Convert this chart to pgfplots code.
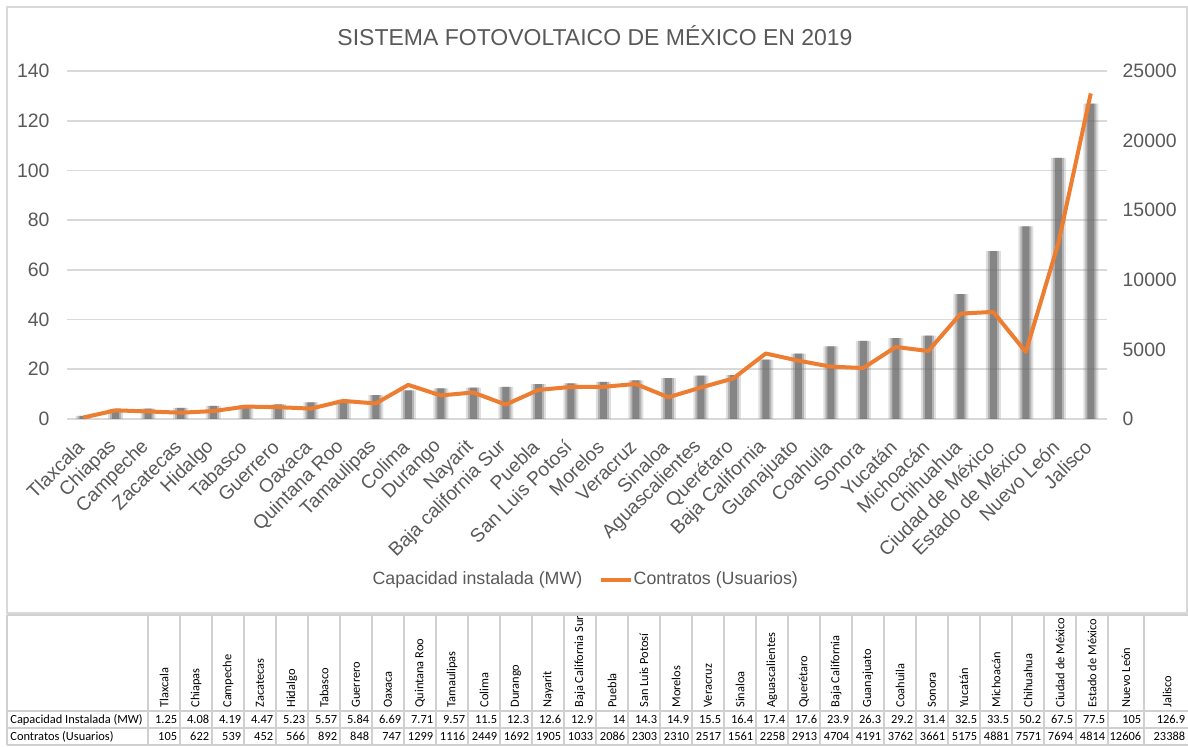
\documentclass[border=0pt]{standalone}
\usepackage{pgfplots}
\pgfplotsset{compat=1.18}
\usepackage{pgfplotstable}
\usepackage{fontspec}
\setmainfont{Liberation Sans}
\newfontfamily\tablefont{Carlito}
\definecolor{txt}{HTML}{595959}
\definecolor{gridc}{HTML}{D9D9D9}
\definecolor{orng}{HTML}{ED7D31}
\definecolor{tline}{HTML}{D0D0D0}

\pgfplotstableread[col sep=comma]{
idx,name,tname,cap,con,xc,xr
0,Tlaxcala,Tlaxcala,1.25,105,164,180
1,Chiapas,Chiapas,4.08,622,196,212
2,Campeche,Campeche,4.19,539,228,244
3,Zacatecas,Zacatecas,4.47,452,260,276
4,Hidalgo,Hidalgo,5.23,566,292,308
5,Tabasco,Tabasco,5.57,892,324,340
6,Guerrero,Guerrero,5.84,848,356,372
7,Oaxaca,Oaxaca,6.69,747,388,404
8,Quintana Roo,Quintana Roo,7.71,1299,420,436
9,Tamaulipas,Tamaulipas,9.57,1116,452,468
10,Colima,Colima,11.5,2449,484,500
11,Durango,Durango,12.3,1692,516,532
12,Nayarit,Nayarit,12.6,1905,548,564
13,Baja california Sur,Baja California Sur,12.9,1033,580,596
14,Puebla,Puebla,14,2086,612,628
15,San Luis Potosí,San Luis Potosí,14.3,2303,644,660
16,Morelos,Morelos,14.9,2310,676,692
17,Veracruz,Veracruz,15.5,2517,708,724
18,Sinaloa,Sinaloa,16.4,1561,740,756
19,Aguascalientes,Aguascalientes,17.4,2258,772,788
20,Querétaro,Querétaro,17.6,2913,804,820
21,Baja California,Baja California,23.9,4704,836,852
22,Guanajuato,Guanajuato,26.3,4191,868,884
23,Coahuila,Coahuila,29.2,3762,900,916
24,Sonora,Sonora,31.4,3661,932,948
25,Yucatán,Yucatán,32.5,5175,964,980
26,Michoacán,Michoacán,33.5,4881,996,1012
27,Chihuahua,Chihuahua,50.2,7571,1028,1044
28,Ciudad de México,Ciudad de México,67.5,7694,1060,1076
29,Estado de México,Estado de México,77.5,4814,1092,1108
30,Nuevo León,Nuevo León,105,12606,1126,1144
31,Jalisco,Jalisco,126.9,23388,1167,1188
}\datos

\begin{document}
\begin{tikzpicture}
\useasboundingbox (0,0) rectangle (594pt,373.5pt);

% ---------- data table and frame ----------
\begin{axis}[at={(0pt,0pt)}, anchor=south west, scale only axis,
  width=594pt, height=373.5pt, xmin=0, xmax=1188, ymin=0, ymax=747,
  hide axis, clip=false]
  \draw[gridc, line width=0.8pt] (axis cs:7,134) rectangle (axis cs:1187,740);
  \pgfplotsinvokeforeach{132,36,19,2}{
    \draw[tline, line width=0.9pt] (axis cs:7,#1) -- (axis cs:1188,#1);
  }
  \pgfplotsinvokeforeach{7,148,180,212,244,276,308,340,372,404,436,468,500,532,564,596,628,660,692,724,756,788,820,852,884,916,948,980,1012,1044,1076,1108,1144}{
    \draw[tline, line width=0.9pt] (axis cs:#1,2) -- (axis cs:#1,132);
  }
  \node[anchor=west, inner sep=0pt, font=\tablefont\fontsize{6.2}{7}\selectfont] at (axis cs:10,27.5) {Capacidad Instalada (MW)};
  \node[anchor=west, inner sep=0pt, font=\tablefont\fontsize{6.2}{7}\selectfont] at (axis cs:10,10.5) {Contratos (Usuarios)};
  \addplot[only marks, mark size=0pt, mark options={draw=none,fill=none},
    point meta=explicit symbolic, nodes near coords,
    nodes near coords style={rotate=90, anchor=west, inner sep=0pt,
      font=\tablefont\fontsize{6.2}{7}\selectfont, text=black}]
    table[x=xc, y expr=39, meta=tname]{\datos};
  \addplot[only marks, mark size=0pt, mark options={draw=none,fill=none},
    point meta=explicit symbolic, nodes near coords,
    nodes near coords style={anchor=east, inner sep=0pt,
      font=\tablefont\fontsize{6.2}{7}\selectfont, text=black}]
    table[x expr=\thisrow{xr}-2.5, y expr=27.5, meta=cap]{\datos};
  \addplot[only marks, mark size=0pt, mark options={draw=none,fill=none},
    point meta=explicit symbolic, nodes near coords,
    nodes near coords style={anchor=east, inner sep=0pt,
      font=\tablefont\fontsize{6.2}{7}\selectfont, text=black}]
    table[x expr=\thisrow{xr}-2.5, y expr=10.5, meta=con]{\datos};
\end{axis}

% ---------- bars (left axis) ----------
\begin{axis}[at={(33.5pt,164pt)}, anchor=south west, scale only axis,
  width=520pt, height=174pt,
  xmin=-0.5, xmax=31.5, ymin=0, ymax=140,
  ytick={0,20,...,140}, xtick={0,...,31},
  xticklabels from table={\datos}{name},
  axis line style={draw=none}, major tick length=0pt,
  ymajorgrids, grid style={gridc, line width=0.8pt},
  /pgf/number format/assume math mode=true,
  ticklabel style={text=txt},
  yticklabel style={font=\fontsize{9.7}{11}\selectfont, xshift=-5.2pt},
  xticklabel style={font=\fontsize{9.6}{11}\selectfont, xshift=1.2pt, yshift=-10pt, rotate=45, anchor=east},
  title={SISTEMA FOTOVOLTAICO DE MÉXICO EN 2019},
  title style={font=\fontsize{11.5}{13}\selectfont, text=txt, at={(0.5,1)}, anchor=center, yshift=11.5pt, xshift=4pt},
  clip=false]
  \addplot[ybar, bar shift=0pt, bar width=7.5pt, fill=gray, draw=none, fill opacity=0.25, forget plot] table[x=idx,y=cap]{\datos};
  \addplot[ybar, bar shift=0pt, bar width=5.5pt, fill=gray, draw=none, fill opacity=0.45, forget plot] table[x=idx,y=cap]{\datos};
  \addplot[ybar, bar shift=0pt, bar width=3.5pt, fill=black!58, draw=none, fill opacity=0.65, forget plot] table[x=idx,y=cap]{\datos};
\end{axis}

% ---------- line (right axis) ----------
\begin{axis}[at={(33.5pt,164pt)}, anchor=south west, scale only axis,
  width=520pt, height=174pt,
  xmin=-0.5, xmax=31.5, ymin=0, ymax=25000,
  ytick={0,5000,...,25000}, scaled y ticks=false,
  axis y line*=right, hide x axis,
  axis line style={draw=none}, major tick length=0pt,
  /pgf/number format/assume math mode=true,
  /pgf/number format/1000 sep={},
  yticklabel style={font=\fontsize{9.7}{11}\selectfont, text=txt, xshift=4.3pt},
  legend columns=2,
  legend style={at={(0.2923,-0.4626)}, anchor=west, draw=none, fill=none,
    font=\fontsize{8.9}{10}\selectfont, text=txt, inner sep=0pt,
    nodes={inner sep=0.6pt},
    /tikz/every even column/.append style={column sep=7.5pt}},
  clip=false]
  \addlegendimage{legend image code/.code={}}
  \addlegendentry{Capacidad instalada (MW)}
  \addplot[orng, line width=2pt, line join=round, mark=none,
    legend image code/.code={\draw[orng, line width=2pt] (0pt,0pt) -- (15pt,0pt);}]
    table[x=idx,y=con]{\datos};
  \addlegendentry{Contratos (Usuarios)}
\end{axis}
\end{tikzpicture}
\end{document}
